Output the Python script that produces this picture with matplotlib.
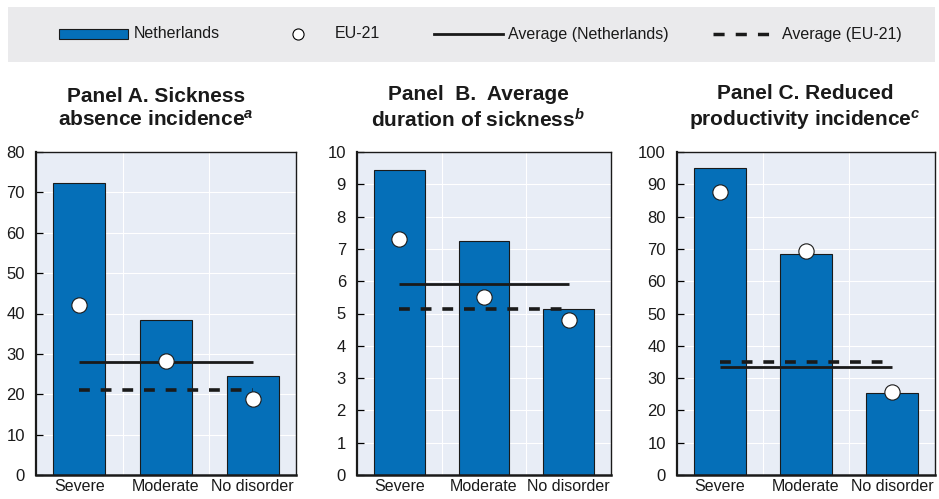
import matplotlib
matplotlib.use("Agg")
import matplotlib.pyplot as plt
from matplotlib.patches import Rectangle
from matplotlib import font_manager

names = {f.name for f in font_manager.fontManager.ttflist}
NARROW = "Liberation Sans Narrow" if "Liberation Sans Narrow" in names else "Liberation Sans"

plt.rcParams["font.family"] = ["Liberation Sans", "DejaVu Sans"]
plt.rcParams["mathtext.fontset"] = "custom"
plt.rcParams["mathtext.it"] = "Liberation Sans:bold:italic"
plt.rcParams["mathtext.rm"] = "Liberation Sans:bold"

categories = ["Severe", "Moderate", "No disorder"]

titles = ["Panel A. Sickness\nabsence incidence$^{\\mathit{a}}$",
          "Panel  B.  Average\nduration of sickness$^{\\mathit{b}}$",
          "Panel C. Reduced\nproductivity incidence$^{\\mathit{c}}$"]

nl_values = [[72.2, 38.5, 24.5], [9.45, 7.25, 5.15], [95.0, 68.5, 25.3]]
eu_values = [[42.2, 28.3, 18.8], [7.3, 5.5, 4.8], [87.5, 69.2, 25.8]]
nl_avg = [28.0, 5.9, 33.5]
eu_avg = [21.0, 5.15, 35.0]
ylims = [80, 10, 100]
ysteps = [10, 1, 10]

BLUE = "#056fb8"
BG = "#e8edf6"
W, H = 939, 499

fig = plt.figure(figsize=(W / 100, H / 100), dpi=100)

# legend band
bx0, by0, bx1, by1 = 8, 7, 935, 62
band = fig.add_axes([bx0 / W, 1 - by1 / H, (bx1 - bx0) / W, (by1 - by0) / H])
band.set_xlim(bx0, bx1)
band.set_ylim(by1, by0)
band.set_facecolor("#eaeaec")
for s in band.spines.values():
    s.set_visible(False)
band.set_xticks([]); band.set_yticks([])
yc = 34
band.add_patch(Rectangle((59, yc - 5), 69, 10, facecolor=BLUE, edgecolor="#1a1a1a", lw=0.8))
band.text(134, yc, "Netherlands", va="center", ha="left", fontsize=11.5, family=NARROW, color="#1a1a1a")
band.plot([298], [yc], marker="o", ms=8, mfc="white", mec="black", mew=0.8)
band.text(335, yc, "EU-21", va="center", ha="left", fontsize=11.5, family=NARROW, color="#1a1a1a")
band.plot([434, 503], [yc, yc], color="#1a1a1a", lw=2)
band.text(508, yc, "Average (Netherlands)", va="center", ha="left", fontsize=11.5, family=NARROW, color="#1a1a1a")
band.plot([713, 770], [yc, yc], color="#1a1a1a", lw=2.5, dashes=(3.2, 3.2))
band.text(782, yc, "Average (EU-21)", va="center", ha="left", fontsize=11.5, family=NARROW, color="#1a1a1a")

lefts = [36, 357, 677]
rights = [296, 611, 935]
title_centers = [156, 478, 805]
top, bottom = 152, 475

for i in range(3):
    ax = fig.add_axes([lefts[i] / W, 1 - bottom / H, (rights[i] - lefts[i]) / W, (bottom - top) / H])
    ax.set_facecolor(BG)
    x = list(range(len(categories)))
    ax.bar(x, nl_values[i], width=0.6, color=BLUE, edgecolor="#1a1a1a", linewidth=0.8, zorder=2)
    ax.hlines(nl_avg[i], 0, 2, color="#1a1a1a", lw=2, zorder=3)
    ax.hlines(eu_avg[i], 0, 2, color="#1a1a1a", lw=2.6, linestyles=(0, (3, 3)), zorder=3)
    ax.plot(x, eu_values[i], "o", ms=11, mfc="white", mec="#1a1a1a", mew=0.8, zorder=4)
    ax.set_xlim(-0.5, 2.5)
    ax.set_ylim(0, ylims[i])
    ax.set_yticks(range(0, ylims[i] + 1, ysteps[i]))
    ax.set_xticks(x)
    ax.set_xticklabels(categories)
    for yv in range(ysteps[i], ylims[i], ysteps[i]):
        ax.axhline(yv, color="white", lw=0.8, zorder=1)
    for xv in (0.5, 1.5):
        ax.axvline(xv, color="white", lw=0.8, zorder=1)
    ax.tick_params(axis="x", length=0, pad=3, labelsize=11.5)
    ax.tick_params(axis="y", direction="in", length=5, width=0.9, pad=8, labelsize=12)
    for lab in ax.get_xticklabels() + ax.get_yticklabels():
        lab.set_family(NARROW)
        lab.set_color("#1a1a1a")
    ax.spines["left"].set_linewidth(1.6)
    ax.spines["bottom"].set_linewidth(1.8)
    ax.spines["top"].set_linewidth(1.0)
    ax.spines["right"].set_linewidth(1.0)
    for s in ax.spines.values():
        s.set_color("#1a1a1a")
    fig.text(title_centers[i] / W, 1 - 108 / H, titles[i], ha="center", va="center",
             fontsize=15, fontweight="bold", color="#1a1a1a", linespacing=1.25)

fig.savefig("out.png", dpi=100)
